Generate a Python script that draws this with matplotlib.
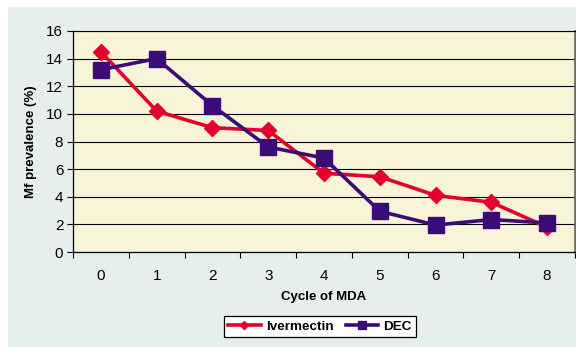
import matplotlib
matplotlib.use("Agg")
import matplotlib.pyplot as plt
from matplotlib.patches import Rectangle

plt.rcParams['font.family'] = ['Liberation Sans', 'DejaVu Sans']

cycles = [0, 1, 2, 3, 4, 5, 6, 7, 8]
ivermectin = [14.5, 10.2, 9.0, 8.8, 5.7, 5.45, 4.1, 3.6, 1.8]
dec = [13.2, 14.0, 10.6, 7.6, 6.8, 2.95, 1.95, 2.35, 2.1]
y_ticks = [0, 2, 4, 6, 8, 10, 12, 14, 16]

RED = '#e4002b'
PURPLE = '#3b0c78'

fig = plt.figure(figsize=(5.76, 3.47), dpi=100)
fig.patch.set_facecolor('white')
# outer chart background band
fig.patches.append(Rectangle((8 / 576, 0), 1, 1 - 7 / 347, transform=fig.transFigure,
                             facecolor='#e6efec', edgecolor='none', zorder=-10))

ax = fig.add_axes([73 / 576, 95 / 347, 502 / 576, 221 / 347])
ax.set_facecolor('#f8f4d8')

ax.plot(cycles, ivermectin, color=RED, lw=2.6, marker='D', ms=8,
        mfc=RED, mec=RED, label='Ivermectin', zorder=3)
ax.plot(cycles, dec, color=PURPLE, lw=2.6, marker='s', ms=11,
        mfc=PURPLE, mec=PURPLE, label='DEC', zorder=4)

ax.set_xlim(-0.5, 8.5)
ax.set_ylim(0, 16)
ax.set_yticks(y_ticks)
ax.set_xticks(cycles)
ax.set_xticks([c - 0.5 for c in cycles] + [8.5], minor=True)
ax.tick_params(axis='x', which='major', length=0, pad=12, labelsize=11)
ax.tick_params(axis='x', which='minor', length=4, width=0.8, color='black')
ax.tick_params(axis='y', length=4, width=0.8, pad=3, labelsize=11)
ax.grid(axis='y', color='black', lw=0.8)
ax.set_axisbelow(True)

for side in ['left', 'bottom']:
    ax.spines[side].set_color('black')
    ax.spines[side].set_linewidth(0.9)
ax.spines['top'].set_color('black')
ax.spines['top'].set_linewidth(0.8)
ax.spines['right'].set_color('#6e6e6e')
ax.spines['right'].set_linewidth(2)

ax.set_xlabel('Cycle of MDA', fontsize=9.5, fontweight='bold', labelpad=6)
ax.set_ylabel('Mf prevalence (%)', fontsize=9.5, fontweight='bold', labelpad=7)

leg = fig.legend(loc='center', bbox_to_anchor=(320 / 576, 1 - 326.5 / 347), ncol=2,
                 frameon=True, fancybox=False, edgecolor='black', framealpha=1,
                 prop={'size': 9.7, 'weight': 'bold'}, markerscale=0.55,
                 handlelength=2.4, handletextpad=0.4, columnspacing=0.9,
                 borderpad=0.3, borderaxespad=0)
leg.get_frame().set_linewidth(0.9)

fig.savefig('out.png', dpi=100)
